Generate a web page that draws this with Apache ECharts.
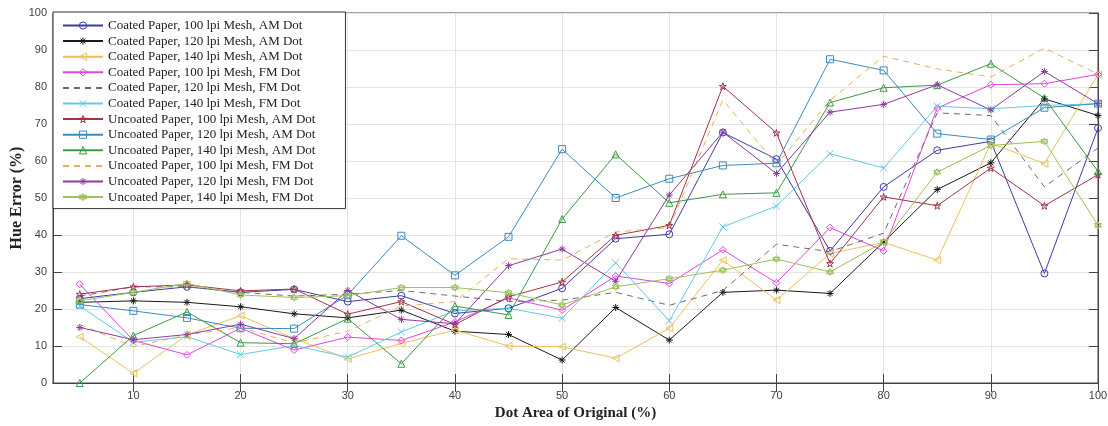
<!DOCTYPE html>
<html>
<head>
<meta charset="utf-8">
<script src="https://cdn.jsdelivr.net/npm/echarts@6/dist/echarts.min.js"></script>
<style>
    html, body {margin: 0; padding: 0; background: #fff;}
    #chart {width: 1108px; height: 426px;}
</style>
</head>
<body>
<div id="chart"></div>
<script>
// dot area (x axis)
var dotArea = [5, 10, 15, 20, 25, 30, 35, 40, 45, 50, 55, 60, 65, 70, 75, 80, 85, 90, 95, 100];
var xTicks = [10, 20, 30, 40, 50, 60, 70, 80, 90, 100];

var seriesNames = [
    'Coated Paper, 100 lpi Mesh, AM Dot',
    'Coated Paper, 120 lpi Mesh, AM Dot',
    'Coated Paper, 140 lpi Mesh, AM Dot',
    'Coated Paper, 100 lpi Mesh, FM Dot',
    'Coated Paper, 120 lpi Mesh, FM Dot',
    'Coated Paper, 140 lpi Mesh, FM Dot',
    'Uncoated Paper, 100 lpi Mesh, AM Dot',
    'Uncoated Paper, 120 lpi Mesh, AM Dot',
    'Uncoated Paper, 140 lpi Mesh, AM Dot',
    'Uncoated Paper, 100 lpi Mesh, FM Dot',
    'Uncoated Paper, 120 lpi Mesh, FM Dot',
    'Uncoated Paper, 140 lpi Mesh, FM Dot'
];

// hue error (%) per series
var coatedAm100 = [22.8, 24.5, 26, 24.5, 25.3, 22, 23.6, 18.8, 20.2, 25.6, 39, 40.2, 67.7, 60.5, 35.7, 53, 62.9, 65.3, 29.6, 68.9];
var coatedAm120 = [21.8, 22.2, 21.8, 20.6, 18.7, 17.6, 19.7, 14, 13.1, 6.2, 20.4, 11.6, 24.5, 25.1, 24.2, 38.1, 52.3, 59.5, 76.8, 72.3];
var coatedAm140 = [12.5, 2.6, 13, 18.2, 12, 6.5, 10.7, 14.3, 10, 9.8, 6.7, 14.8, 33.2, 22.4, 35, 38, 33.2, 64.8, 59.3, 83.4];
var coatedFm100 = [26.7, 11.5, 7.6, 14.8, 8.9, 12.4, 11.5, 16.5, 23, 19.7, 28.9, 26.9, 36, 27.1, 42, 35.7, 74.3, 80.6, 80.9, 83.4];
var coatedFm120 = [23.5, 26, 26, 24.5, 23.5, 24, 25, 23.5, 22, 22.4, 24.5, 21, 25, 37.5, 35.5, 40.5, 73, 72.3, 53, 63.5];
var coatedFm140 = [20.8, 11, 12.5, 7.7, 10.1, 7, 13.8, 19.5, 20.2, 17.5, 32.5, 16.8, 42.2, 47.8, 62, 58.1, 74.8, 74.1, 75, 75.5];
var uncoatedAm100 = [24, 26, 26.5, 24.9, 25.4, 18.6, 22, 15.8, 23.3, 27.3, 39.9, 42.6, 80.2, 67.6, 32.3, 50.3, 47.9, 58.1, 47.9, 56.3];
var uncoatedAm120 = [21.2, 19.5, 17.6, 14.8, 14.7, 23.8, 39.8, 29.1, 39.5, 63.2, 50, 55.2, 58.8, 59.4, 87.5, 84.5, 67.4, 65.8, 74.4, 75.5];
var uncoatedAm140 = [0, 12.8, 19.2, 10.9, 10.6, 17.4, 5.2, 20.8, 18.4, 44.3, 61.8, 48.7, 51, 51.4, 75.8, 79.8, 80.5, 86.3, 77, 57.2];
var uncoatedFm100 = [15.8, 9.8, 13, 15, 10.8, 14, 20.8, 22, 33.6, 33.2, 40.8, 42, 76.5, 59, 76.4, 88.3, 84.9, 82.7, 90.5, 83.5];
var uncoatedFm120 = [15, 11.7, 13.1, 15.9, 12, 25, 17.2, 16, 31.7, 36.2, 27.5, 50.8, 67.8, 56.6, 73.2, 75.3, 80.6, 73.8, 84.2, 75.5];
var uncoatedFm140 = [22.2, 24.5, 26.9, 23.8, 23.1, 23.6, 25.8, 25.8, 24.4, 21.1, 26, 28.2, 30.5, 33.5, 30, 38.1, 57, 64.2, 65.3, 42.6];

var allValues = [coatedAm100, coatedAm120, coatedAm140, coatedFm100, coatedFm120, coatedFm140,
    uncoatedAm100, uncoatedAm120, uncoatedAm140, uncoatedFm100, uncoatedFm120, uncoatedFm140];

// matlab-like marker shapes
var ASTERISK = 'path://M5,0L5,10M0,5L10,5M1.5,1.5L8.5,8.5M8.5,1.5L1.5,8.5';
var CROSS = 'path://M0,0L10,10M10,0L0,10';
var PENTAGRAM = 'path://M5,0L6.18,3.62L10,3.62L6.9,5.86L8.09,9.5L5,7.25L1.91,9.5L3.1,5.86L0,3.62L3.82,3.62Z';
var HEXAGRAM = 'path://M5,0L9.33,7.5L0.67,7.5ZM5,10L0.67,2.5L9.33,2.5Z';
var LEFT_TRI = 'path://M0,5L10,0L10,10Z';

var styles = [
    {color: '#3b3ba5', symbol: 'circle'},
    {color: '#1a1a1a', symbol: ASTERISK},
    {color: '#eac15c', symbol: LEFT_TRI},
    {color: '#e045e0', symbol: 'diamond'},
    {color: '#776666', symbol: 'none', dash: true},
    {color: '#66c8e2', symbol: CROSS},
    {color: '#a33448', symbol: PENTAGRAM},
    {color: '#3a8cbc', symbol: 'rect'},
    {color: '#3c9a44', symbol: 'triangle'},
    {color: '#e3b05c', symbol: 'none', dash: true},
    {color: '#8c3b99', symbol: ASTERISK},
    {color: '#9cc05a', symbol: HEXAGRAM}
];

var myChart = echarts.init(document.getElementById('chart'));

var temp_series = [];
var legend_data = [];
for (var i = 0; i < allValues.length; i++) {
    var pts = [];
    for (var j = 0; j < dotArea.length; j++) {
        pts.push([dotArea[j], allValues[i][j]]);
    }
    var noMarker = styles[i].symbol === 'none';
    temp_series.push({
        name: seriesNames[i],
        type: 'line',
        symbol: styles[i].symbol,
        symbolSize: 7,
        showSymbol: !noMarker,
        lineStyle: {color: styles[i].color, width: 1, type: styles[i].dash ? [6, 5] : 'solid'},
        itemStyle: {color: 'rgba(255,255,255,0)', borderColor: styles[i].color, borderWidth: 1},
        emphasis: {disabled: true},
        data: pts
    });
    // hollow markers in the legend too, none for the dashed ones
    legend_data.push({
        name: seriesNames[i],
        itemStyle: {
            color: 'rgba(255,255,255,0)',
            borderColor: styles[i].color,
            borderWidth: 1,
            opacity: noMarker ? 0 : 1
        }
    });
}

var axisColor = '#444';
var option = {
    animation: false,
    grid: {
        left: 53, right: 10, top: 13, bottom: 43,
        outerBoundsMode: 'none',
        show: true, borderColor: axisColor, borderWidth: 1
    },
    // y title placed by hand, the axis name gets pushed off the canvas
    graphic: [{
        type: 'text',
        x: 17,
        y: 198,
        rotation: Math.PI / 2,
        style: {
            text: 'Hue Error (%)',
            fontFamily: 'Liberation Serif',
            fontWeight: 'bold',
            fontSize: 16,
            fill: '#222',
            align: 'center',
            verticalAlign: 'middle'
        }
    }],
    legend: {
        orient: 'vertical',
        left: 53,
        top: 12,
        padding: [7, 30, 5, 9],
        itemWidth: 40,
        itemHeight: 9,
        itemGap: 2.6,
        backgroundColor: '#fff',
        borderColor: '#333',
        borderWidth: 1,
        textStyle: {fontFamily: 'Liberation Serif', fontSize: 13, color: '#222', lineHeight: 12},
        data: legend_data
    },
    xAxis: [{
        type: 'value',
        min: 2.5,
        max: 100,
        position: 'bottom',
        name: 'Dot Area of Original (%)',
        nameLocation: 'middle',
        nameGap: 19,
        nameTextStyle: {fontFamily: 'Liberation Serif', fontWeight: 'bold', fontSize: 15, color: '#222'},
        axisLine: {show: true, lineStyle: {color: axisColor}},
        axisTick: {show: true, inside: true, length: 9, customValues: xTicks, lineStyle: {color: axisColor}},
        axisLabel: {customValues: xTicks, fontFamily: 'Liberation Sans', fontSize: 11, color: '#404040', margin: 7},
        splitLine: {show: true, lineStyle: {color: '#e4e4e4'}}
    }, {
        type: 'value',
        min: 2.5,
        max: 100,
        position: 'top',
        axisLine: {show: true, lineStyle: {color: axisColor}},
        axisTick: {show: true, inside: true, length: 9, customValues: xTicks, lineStyle: {color: axisColor}},
        axisLabel: {show: false},
        splitLine: {show: false}
    }],
    yAxis: [{
        type: 'value',
        min: 0,
        max: 100,
        interval: 10,
        axisLine: {show: true, lineStyle: {color: axisColor}},
        axisTick: {show: true, inside: true, length: 9, lineStyle: {color: axisColor}},
        axisLabel: {fontFamily: 'Liberation Sans', fontSize: 11, color: '#404040', margin: 6},
        splitLine: {show: true, lineStyle: {color: '#e4e4e4'}}
    }, {
        type: 'value',
        min: 0,
        max: 100,
        interval: 10,
        position: 'right',
        axisLine: {show: true, lineStyle: {color: axisColor}},
        axisTick: {show: true, inside: true, length: 9, lineStyle: {color: axisColor}},
        axisLabel: {show: false},
        splitLine: {show: false}
    }],
    series: temp_series
};

myChart.setOption(option);
</script>
</body>
</html>
